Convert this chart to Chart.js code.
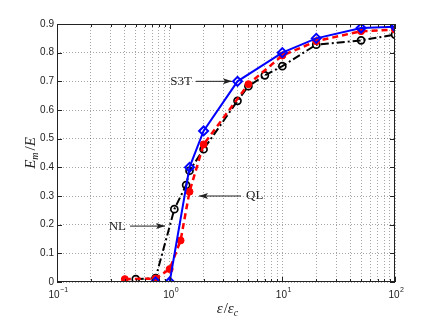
<!DOCTYPE html>
<html>
<head>
<meta charset="utf-8">
<script src="https://cdn.jsdelivr.net/npm/chart.js@4.4.0/dist/chart.umd.min.js"></script>
<style>
  html, body { margin: 0; padding: 0; background: #fff; }
</style>
</head>
<body>
<canvas id="chart" width="437" height="318"></canvas>
<script>
// values (x = eps/eps_c, y = E_m/E)
const s3tX = [0.75, 1, 1.5, 2, 4, 10, 20, 50, 100];
const s3tY = [0, 0, 0.40, 0.527, 0.70, 0.80, 0.85, 0.886, 0.89];

const qlX = [0.4, 0.75, 1, 1.25, 1.5, 2, 5, 10, 20, 50, 100];
const qlY = [0.01, 0.012, 0.045, 0.145, 0.315, 0.48, 0.69, 0.79, 0.84, 0.875, 0.88];

const nlX = [0.5, 0.75, 1.1, 1.4, 1.5, 2, 4, 5, 7, 10, 20, 50, 100];
const nlY = [0.01, 0.014, 0.254, 0.338, 0.388, 0.463, 0.632, 0.683, 0.721, 0.753, 0.828, 0.843, 0.863];

// x tick labels: 10^exp at each decade
const xDecades = [0.1, 1, 10, 100];
const xTickExp = ['\u22121', '0', '1', '2'];

// annotations: label, arrow tail and head (data coords)
const notes = [
  { text: 'S3T', from: [1.71, 0.70], to: [3.57, 0.70], side: 'left' },
  { text: 'QL', from: [4.3, 0.30], to: [1.82, 0.30], side: 'right' },
  { text: 'NL', from: [0.445, 0.195], to: [0.91, 0.195], side: 'left' }
];

const toPts = (xs, ys) => xs.map((v, i) => ({ x: v, y: ys[i] }));

function isDecade(v) {
  return Math.abs(Math.log10(v) - Math.round(Math.log10(v))) < 1e-6;
}

const SANS = '"Liberation Sans", Arial, sans-serif';
const SERIF = '"Liberation Serif", "Times New Roman", serif';

const overlay = {
  id: 'overlay',
  afterDraw(chart) {
    const { ctx, chartArea: a, scales: { x, y } } = chart;
    ctx.save();
    ctx.strokeStyle = '#222';
    ctx.lineWidth = 1;
    ctx.setLineDash([]);
    ctx.beginPath();
    x.ticks.forEach(t => {
      const px = Math.round(x.getPixelForValue(t.value)) + 0.5;
      const len = isDecade(t.value) ? 5 : 3;
      ctx.moveTo(px, a.bottom); ctx.lineTo(px, a.bottom - len);
      ctx.moveTo(px, a.top); ctx.lineTo(px, a.top + len);
    });
    y.ticks.forEach(t => {
      const py = Math.round(y.getPixelForValue(t.value)) + 0.5;
      ctx.moveTo(a.left, py); ctx.lineTo(a.left + 5, py);
      ctx.moveTo(a.right, py); ctx.lineTo(a.right - 5, py);
    });
    ctx.stroke();
    ctx.strokeRect(a.left + 0.5, a.top + 0.5, a.width - 1, a.height - 1);

    // x tick labels 10^n
    ctx.fillStyle = '#222';
    ctx.textAlign = 'left';
    ctx.textBaseline = 'alphabetic';
    xDecades.forEach((d, i) => {
      const px = x.getPixelForValue(d);
      ctx.font = '10px ' + SANS;
      const wb = ctx.measureText('10').width;
      ctx.font = '7px ' + SANS;
      const we = ctx.measureText(xTickExp[i]).width;
      const x0 = px - (wb + we) / 2 + 1;
      ctx.font = '10px ' + SANS;
      ctx.fillText('10', x0, 298);
      ctx.font = '7px ' + SANS;
      ctx.fillText(xTickExp[i], x0 + wb + 0.5, 292);
    });

    // annotations
    ctx.font = '13px ' + SERIF;
    ctx.textBaseline = 'middle';
    notes.forEach(n => {
      const x0 = x.getPixelForValue(n.from[0]), y0 = y.getPixelForValue(n.from[1]);
      const x1 = x.getPixelForValue(n.to[0]), y1 = y.getPixelForValue(n.to[1]);
      ctx.beginPath();
      ctx.moveTo(x0, y0); ctx.lineTo(x1, y1);
      ctx.stroke();
      const dir = Math.sign(x1 - x0);
      ctx.beginPath();
      ctx.moveTo(x1, y1);
      ctx.lineTo(x1 - dir * 9, y1 - 3);
      ctx.lineTo(x1 - dir * 7, y1);
      ctx.lineTo(x1 - dir * 9, y1 + 3);
      ctx.closePath();
      ctx.fill();
      if (n.side === 'left') {
        ctx.textAlign = 'right';
        ctx.fillText(n.text, x0 - 4, y0);
      } else {
        ctx.textAlign = 'left';
        ctx.fillText(n.text, x0 + 5, y0);
      }
    });

    // y axis title: E_m / E
    const big = 'italic 15px ' + SERIF;
    const small = 'italic 10px ' + SERIF;
    const reg = '15px ' + SERIF;
    ctx.save();
    ctx.translate(30, 153);
    ctx.rotate(-Math.PI / 2);
    ctx.textAlign = 'left';
    ctx.textBaseline = 'alphabetic';
    let parts = [[big, 'E', 0], [small, 'm', 3], [reg, '/', 0], [big, 'E', 0]];
    let w = parts.reduce((s, p) => { ctx.font = p[0]; return s + ctx.measureText(p[1]).width; }, 0) + 2;
    let cx = -w / 2;
    parts.forEach((p, i) => {
      ctx.font = p[0];
      ctx.fillText(p[1], cx, 5 + p[2]);
      cx += ctx.measureText(p[1]).width + (i === 1 ? 2 : 0);
    });
    ctx.restore();

    // x axis title: eps / eps_c
    ctx.textAlign = 'left';
    ctx.textBaseline = 'alphabetic';
    parts = [[big, '\u03B5', 0], [reg, '/', 0], [big, '\u03B5', 0], [small, 'c', 3]];
    w = parts.reduce((s, p) => { ctx.font = p[0]; return s + ctx.measureText(p[1]).width; }, 0) + 2;
    cx = 228 - w / 2;
    parts.forEach((p, i) => {
      ctx.font = p[0];
      ctx.fillText(p[1], cx, 313 + p[2]);
      cx += ctx.measureText(p[1]).width + (i === 0 ? 1 : 0);
    });
    ctx.restore();
  }
};

new Chart(document.getElementById('chart').getContext('2d'), {
  type: 'line',
  data: {
    datasets: [
      {
        label: 'S3T',
        data: toPts(s3tX, s3tY),
        borderColor: '#0000ff',
        borderWidth: 2,
        pointStyle: 'rectRot',
        pointRadius: 4.5,
        pointBorderWidth: 2,
        pointBorderColor: '#0000ff',
        pointBackgroundColor: 'rgba(0,0,0,0)',
        fill: false
      },
      {
        label: 'QL',
        data: toPts(qlX, qlY),
        borderColor: '#ff0000',
        borderWidth: 2.5,
        borderDash: [6, 4],
        pointStyle: 'circle',
        pointRadius: 3.5,
        pointBorderWidth: 1,
        pointBorderColor: '#ff0000',
        pointBackgroundColor: '#ff0000',
        fill: false
      },
      {
        label: 'NL',
        data: toPts(nlX, nlY),
        borderColor: '#000000',
        borderWidth: 2,
        borderDash: [8, 3, 2, 3],
        pointStyle: 'circle',
        pointRadius: 3.5,
        pointBorderWidth: 1.7,
        pointBorderColor: '#000000',
        pointBackgroundColor: 'rgba(0,0,0,0)',
        fill: false
      }
    ]
  },
  options: {
    responsive: false,
    animation: false,
    layout: { padding: { top: 24, right: 42, left: 0, bottom: 0 } },
    plugins: { legend: { display: false }, tooltip: { enabled: false } },
    scales: {
      x: {
        type: 'logarithmic',
        min: 0.1,
        max: 100,
        afterBuildTicks(scale) {
          const ticks = [];
          xDecades.forEach(d => {
            for (let k = 1; k <= 9; k++) {
              ticks.push({ value: d * k });
              if (d === 100) break;
            }
          });
          scale.ticks = ticks;
        },
        afterFit(scale) { scale.height = 36; },
        ticks: {
          autoSkip: false,
          maxRotation: 0,
          padding: 4,
          font: { family: SANS, size: 10 },
          callback() { return ''; }
        },
        grid: { color: 'rgba(0,0,0,0.35)', lineWidth: 1, drawTicks: false },
        border: { display: false, dash: [1, 2] }
      },
      y: {
        type: 'linear',
        min: 0,
        max: 0.9,
        afterFit(scale) { scale.width = 57; },
        ticks: {
          stepSize: 0.1,
          padding: 3,
          color: '#222',
          font: { family: SANS, size: 10 },
          callback(v) { return Math.round(v * 10) / 10; }
        },
        grid: { color: 'rgba(0,0,0,0.35)', lineWidth: 1, drawTicks: false },
        border: { display: false, dash: [1, 2] }
      }
    }
  },
  plugins: [overlay]
});
</script>
</body>
</html>
